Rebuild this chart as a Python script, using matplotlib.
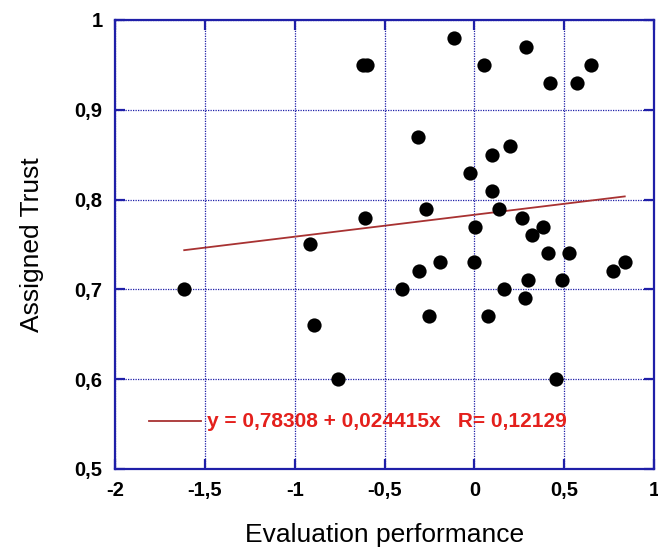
import numpy as np
import matplotlib
matplotlib.use("Agg")
import matplotlib.pyplot as plt

# scatter data
eval_perf = [
    -1.615, -0.913, -0.893, -0.759, -0.620, -0.600, -0.611, -0.404, -0.311, -0.309,
    -0.269, -0.254, -0.194, -0.111, -0.022, -0.002, 0.004, 0.056, 0.074, 0.096,
    0.096, 0.139, 0.167, 0.198, 0.263, 0.281, 0.287, 0.296, 0.319, 0.380,
    0.407, 0.420, 0.457, 0.487, 0.528, 0.570, 0.648, 0.772, 0.837,
]
assigned_trust = [
    0.70, 0.75, 0.66, 0.60, 0.95, 0.95, 0.78, 0.70, 0.87, 0.72,
    0.79, 0.67, 0.73, 0.98, 0.83, 0.73, 0.77, 0.95, 0.67, 0.85,
    0.81, 0.79, 0.70, 0.86, 0.78, 0.69, 0.97, 0.71, 0.76, 0.77,
    0.74, 0.93, 0.60, 0.71, 0.74, 0.93, 0.95, 0.72, 0.73,
]

# fit reported in the figure
intercept = 0.78308
slope = 0.024415
r_value = 0.12129

x_ticks = [-2, -1.5, -1, -0.5, 0, 0.5, 1]
x_tick_labels = ["-2", "-1,5", "-1", "-0,5", "0", "0,5", "1"]
y_ticks = [0.5, 0.6, 0.7, 0.8, 0.9, 1.0]
y_tick_labels = ["0,5", "0,6", "0,7", "0,8", "0,9", "1"]

BLUE = "#1f1fa8"
LINE_RED = "#a83232"
TEXT_RED = "#e4201c"

plt.rcParams["font.family"] = ["Liberation Sans", "DejaVu Sans"]

fig = plt.figure(figsize=(6.58, 5.5), dpi=100)
fig.patch.set_facecolor("white")
ax = fig.add_axes([0.1748, 0.1473, 0.8192, 0.8164])

ax.scatter(eval_perf, assigned_trust, s=105, color="black", zorder=3, linewidths=0)

xs = np.array([min(eval_perf), max(eval_perf)])
ax.plot(xs, intercept + slope * xs, color=LINE_RED, lw=1.3, zorder=2)

# legend-like line sample and equation text
ax.plot([-1.81, -1.52], [0.553, 0.553], color=LINE_RED, lw=1.3)
eq = f"y = {intercept:.5f} + {slope:.6f}x   R= {r_value:.5f}".replace(".", ",")
ax.text(-1.49, 0.553, eq, color=TEXT_RED, fontsize=15, fontweight="bold",
        va="center", ha="left")

ax.set_xlim(-2, 1)
ax.set_ylim(0.5, 1.0)
ax.set_xticks(x_ticks)
ax.set_xticklabels(x_tick_labels)
ax.set_yticks(y_ticks)
ax.set_yticklabels(y_tick_labels)
ax.tick_params(direction="in", length=7, width=1.6, color=BLUE,
               top=True, right=True, labelsize=14.5, pad=9)
for lab in ax.get_xticklabels() + ax.get_yticklabels():
    lab.set_fontweight("bold")

ax.grid(True, color=BLUE, linestyle=(0, (1, 1)), linewidth=0.9)
for sp in ax.spines.values():
    sp.set_color(BLUE)
    sp.set_linewidth(1.6)

ax.set_xlabel("Evaluation performance", fontsize=19, labelpad=16)
ax.set_ylabel("Assigned Trust", fontsize=19, labelpad=22)

fig.savefig("out.png", dpi=100, facecolor="white")
